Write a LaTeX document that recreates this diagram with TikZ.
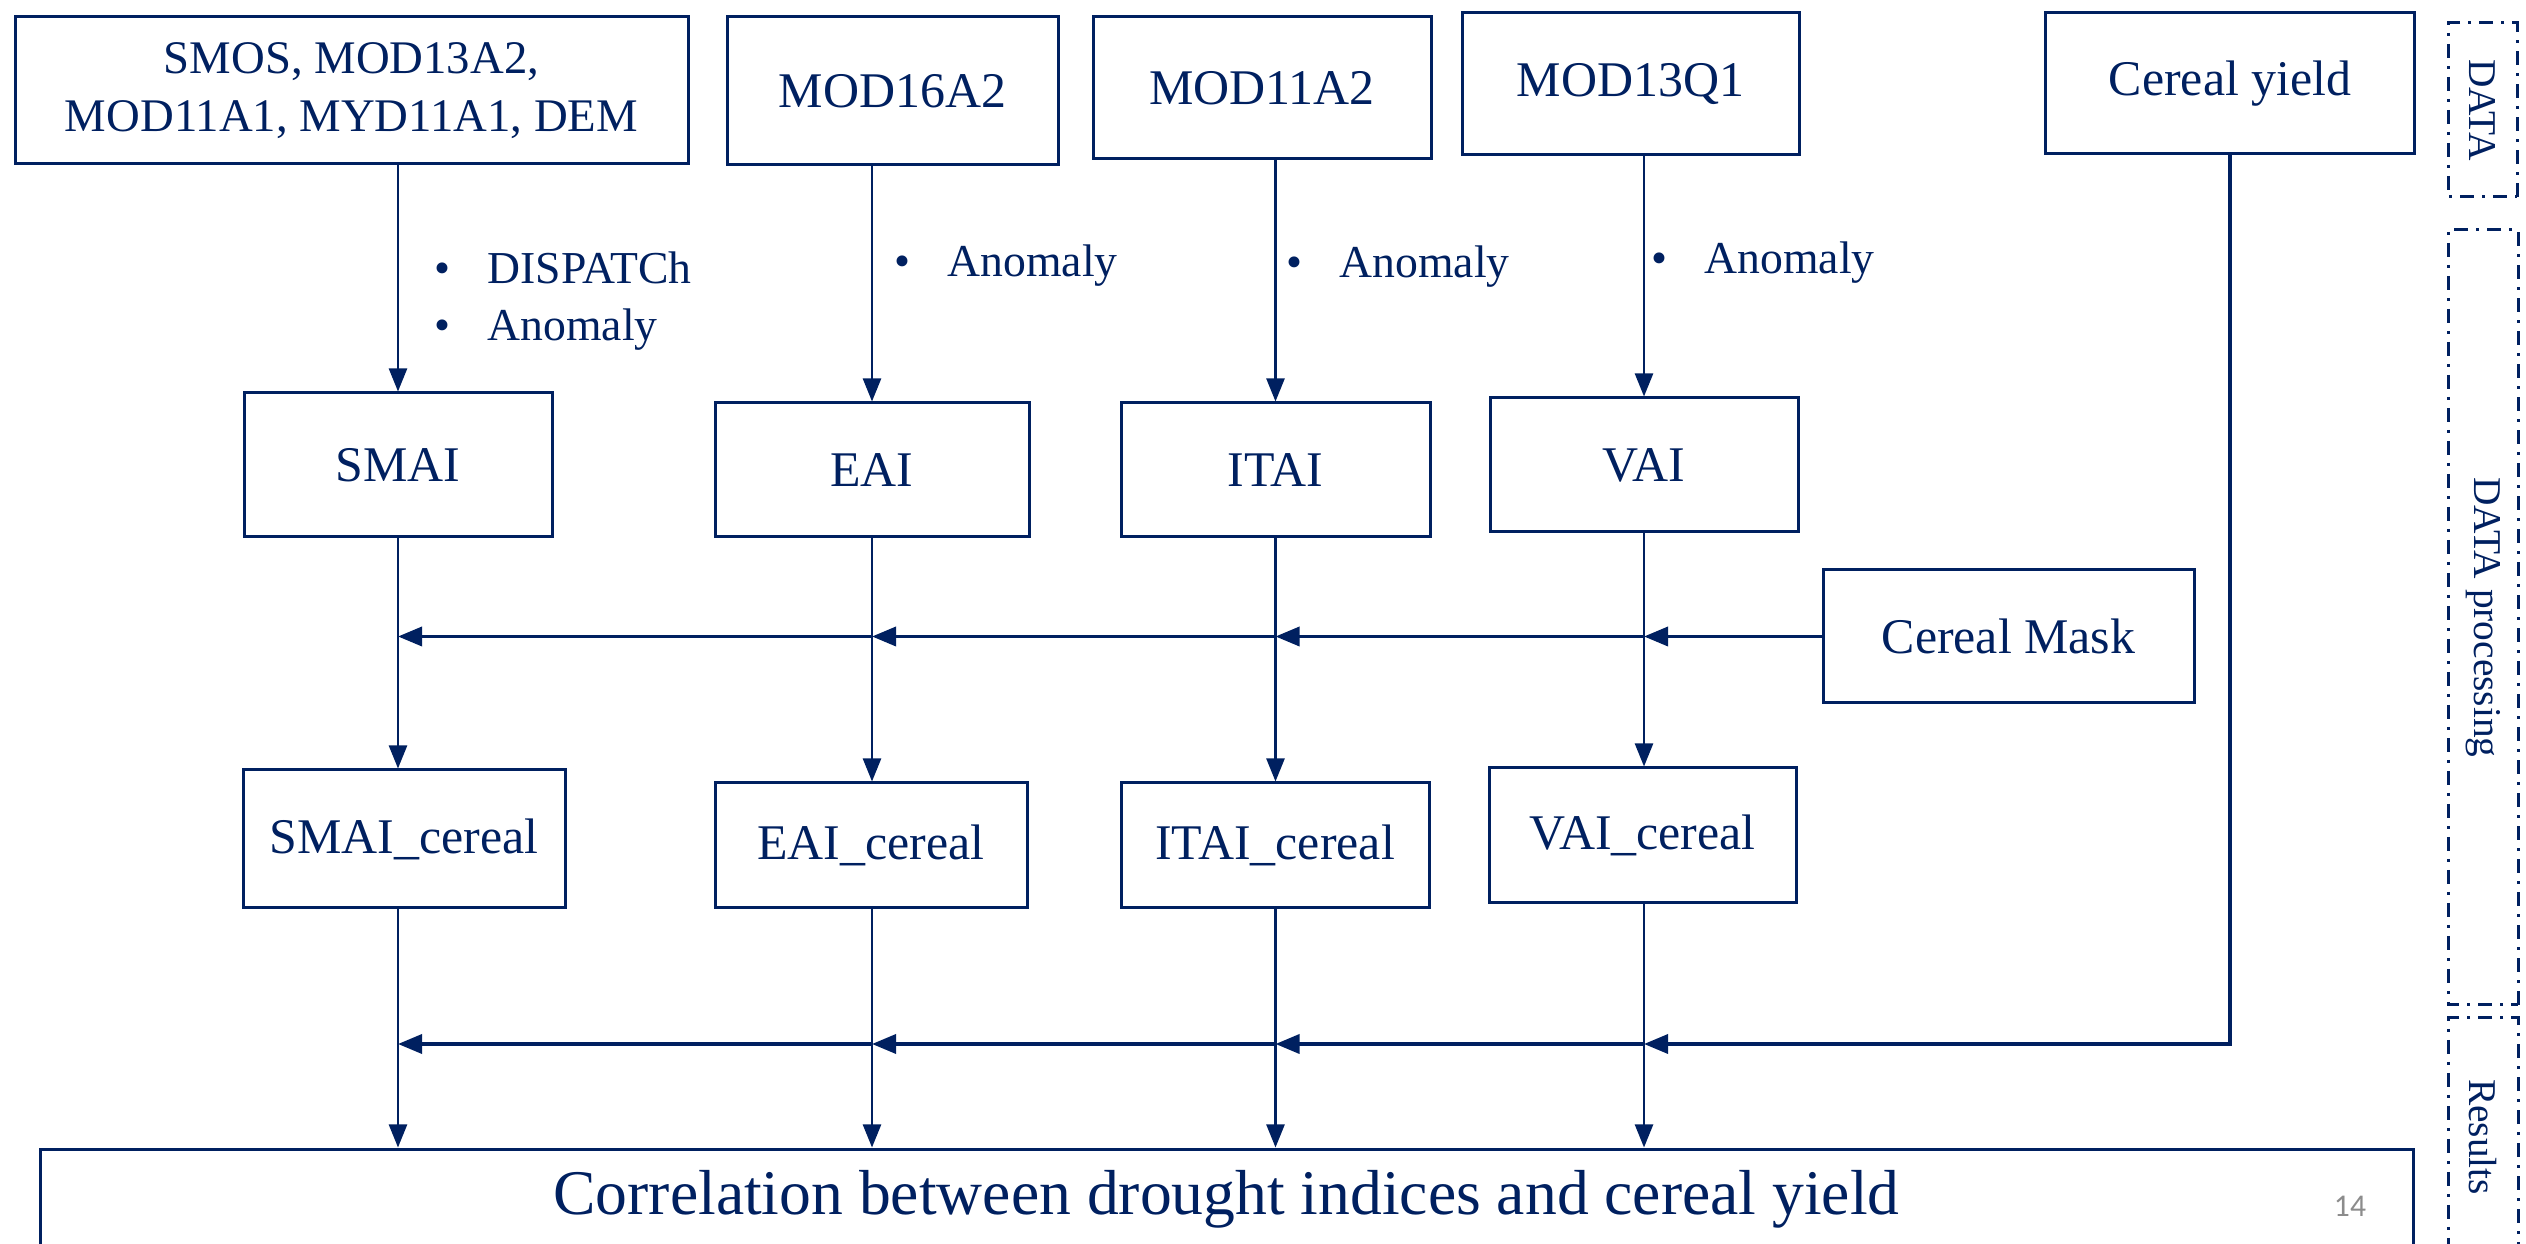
\documentclass[tikz,border=0pt]{standalone}
\usepackage{fontspec}
\setmainfont{Liberation Serif}
\newfontfamily\pagefont{Carlito}
\usetikzlibrary{arrows.meta}
\definecolor{darkblue}{HTML}{002060}
\definecolor{pagegrey}{HTML}{8C8C8C}

\begin{document}
\begin{tikzpicture}
[x=0.1mm, y=-0.1mm,
databox/.style={rectangle, draw=darkblue, line width=0.3mm, text=darkblue, inner sep=0pt, font=\fontsize{14.2}{17}\selectfont},
steplabel/.style={text=darkblue, align=left, anchor=west, inner sep=0pt, font=\fontsize{13}{16}\selectfont},
sidebox/.style={rectangle, draw=darkblue, line width=0.3mm, dash pattern=on 1.4mm off 0.8mm on 0.3mm off 0.8mm, text=darkblue, rotate=-90, inner sep=0pt, font=\fontsize{11.2}{13}\selectfont},
connect/.style={-{Triangle[length=2.3mm, width=1.8mm]}, draw=darkblue, line width=0.24mm},
feed/.style={-{Triangle[length=2.4mm, width=1.9mm]}, draw=darkblue, line width=0.35mm}]
\useasboundingbox (0,0) rectangle (2526,1244);
\node[databox, minimum width=67.3mm, minimum height=14.7mm, align=center, font=\fontsize{13.3}{16.4}\selectfont]	(src) at (351.5, 90.5) {SMOS, MOD13A2,\\MOD11A1, MYD11A1, DEM};
\node[databox, minimum width=33.1mm, minimum height=14.8mm]	(mod16) at (892.5, 91) {MOD16A2};
\node[databox, minimum width=33.8mm, minimum height=14.2mm]	(mod11) at (1262, 88) {MOD11A2};
\node[databox, minimum width=33.7mm, minimum height=14.2mm]	(mod13) at (1630.5, 84) {MOD13Q1};
\node[databox, minimum width=36.9mm, minimum height=14.1mm]	(yield) at (2230, 83.5) {Cereal yield};
\node[databox, minimum width=30.8mm, minimum height=14.4mm]	(smai) at (398, 465) {SMAI};
\node[databox, minimum width=31.4mm, minimum height=13.4mm]	(eai) at (872, 470) {EAI};
\node[databox, minimum width=30.9mm, minimum height=13.4mm]	(itai) at (1275.5, 470) {ITAI};
\node[databox, minimum width=30.8mm, minimum height=13.4mm]	(vai) at (1644, 465) {VAI};
\node[databox, minimum width=37.1mm, minimum height=13.3mm]	(mask) at (2008.5, 636.5) {Cereal Mask};
\node[databox, minimum width=32.2mm, minimum height=13.8mm]	(smaic) at (404, 839) {SMAI\_cereal};
\node[databox, minimum width=31.2mm, minimum height=12.5mm]	(eaic) at (871, 845.5) {EAI\_cereal};
\node[databox, minimum width=30.8mm, minimum height=12.5mm]	(itaic) at (1275, 845.5) {ITAI\_cereal};
\node[databox, minimum width=30.7mm, minimum height=13.5mm]	(vaic) at (1642.5, 835.5) {VAI\_cereal};
\node[databox, minimum width=237.3mm, minimum height=10mm, font=\fontsize{18.1}{22}\selectfont]	(corr) at (1226.5, 1199) {Correlation between drought indices and cereal yield};
\node[text=pagegrey, font=\pagefont\fontsize{9}{11}\selectfont]	(pagenum) at (2350, 1206) {14};
\node[steplabel]	(dispatch) at (434, 301) {\textbullet\hspace{3.7mm}DISPATCh\\\textbullet\hspace{3.7mm}Anomaly};
\node[steplabel]	(anom16) at (894, 266) {\textbullet\hspace{3.7mm}Anomaly};
\node[steplabel]	(anom11) at (1286, 267) {\textbullet\hspace{3.7mm}Anomaly};
\node[steplabel]	(anom13) at (1651, 263) {\textbullet\hspace{3.7mm}Anomaly};
\node[sidebox, minimum width=17.4mm, minimum height=6.9mm]	(sidedata) at (2482.5, 110) {DATA};
\node[sidebox, minimum width=77.5mm, minimum height=7mm]	(sideproc) at (2483, 617.5) {DATA processing};
\node[sidebox, minimum width=23.8mm, minimum height=7mm]	(sideres) at (2483, 1137) {Results};
\coordinate (yieldturn) at (2230, 1044);
\draw[connect] (src.south -| smai.north) -- (smai.north);
\draw[connect] (mod16.south -| eai.north) -- (eai.north);
\draw[connect] (mod11.south -| itai.north) -- (itai.north);
\draw[connect] (mod13.south -| vai.north) -- (vai.north);
\draw[connect] (smai.south) -- (smai.south |- smaic.north);
\draw[connect] (eai.south) -- (eai.south |- eaic.north);
\draw[connect] (itai.south) -- (itai.south |- itaic.north);
\draw[connect] (vai.south) -- (vai.south |- vaic.north);
\draw[connect] (smai |- smaic.south) -- (smai |- corr.north);
\draw[connect] (eai |- eaic.south) -- (eai |- corr.north);
\draw[connect] (itai |- itaic.south) -- (itai |- corr.north);
\draw[connect] (vai |- vaic.south) -- (vai |- corr.north);
\draw[feed] (mask.west) -- (mask.west -| vai);
\draw[feed] (mask.west -| vai) -- (mask.west -| itai);
\draw[feed] (mask.west -| itai) -- (mask.west -| eai);
\draw[feed] (mask.west -| eai) -- (mask.west -| smai);
\draw[feed] (yield.south) -- (yieldturn) -- (yieldturn -| vai);
\draw[feed] (yieldturn -| vai) -- (yieldturn -| itai);
\draw[feed] (yieldturn -| itai) -- (yieldturn -| eai);
\draw[feed] (yieldturn -| eai) -- (yieldturn -| smai);
\end{tikzpicture}
\end{document}
